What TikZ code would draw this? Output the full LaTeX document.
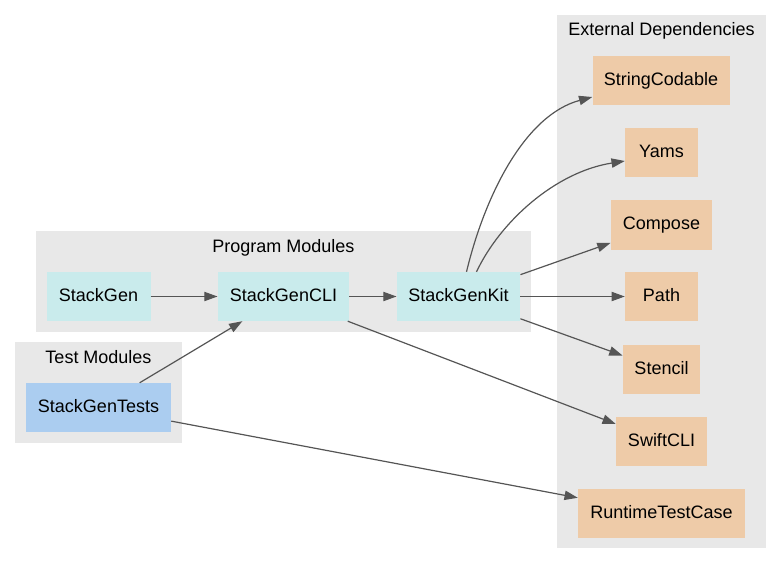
\documentclass[tikz,border=0pt]{standalone}
\usepackage{fontspec}
\setmainfont{Liberation Sans}
\usetikzlibrary{arrows.meta}
\definecolor{clusterbg}{HTML}{E8E8E8}
\definecolor{progfill}{HTML}{C9EBEC}
\definecolor{testfill}{HTML}{ABCDF0}
\definecolor{extfill}{HTML}{EECBA8}
\definecolor{edgecol}{HTML}{555555}
\begin{document}
\begin{tikzpicture}[x=1pt,y=-1pt,
  box/.style={inner sep=0pt, minimum height=49pt, text height=13pt, text depth=4pt,
    font=\fontsize{18}{21}\selectfont},
  prog/.style={box, fill=progfill},
  testm/.style={box, fill=testfill},
  ext/.style={box, fill=extfill},
  clabel/.style={anchor=base, inner sep=0pt, font=\fontsize{18}{21}\selectfont},
  dep/.style={draw=edgecol, line width=1.2pt, -{Triangle[length=13.3pt,width=9.3pt]}, fill=none},
]
\useasboundingbox (0,0) rectangle (771,564);
% clusters
\fill[clusterbg] (557,15) rectangle (766,548);
\fill[clusterbg] (36,231) rectangle (531,332);
\fill[clusterbg] (15,342) rectangle (182,443);
\node[clabel] (lext) at (661.5,36) {External Dependencies};
\node[clabel] (lprog) at (283.5,252) {Program Modules};
\node[clabel] (ltest) at (98.5,363) {Test Modules};
% program modules
\node[prog, minimum width=104pt] (sg) at (98.5,296.5) {StackGen};
\node[prog, minimum width=131.5pt] (cli) at (283.5,296.5) {StackGenCLI};
\node[prog, minimum width=123.5pt] (kit) at (458.5,296.5) {StackGenKit};
% test modules
\node[testm, minimum width=145pt] (tests) at (98.5,407.5) {StackGenTests};
% external
\node[ext, minimum width=137pt] (sc) at (661,81) {StringCodable};
\node[ext, minimum width=73pt] (yams) at (661.5,153) {Yams};
\node[ext, minimum width=101.5pt] (compose) at (661.5,225) {Compose};
\node[ext, minimum width=73pt] (path) at (661.5,296.5) {Path};
\node[ext, minimum width=77.5pt] (stencil) at (661.5,369.5) {Stencil};
\node[ext, minimum width=91pt] (swiftcli) at (661.5,441.5) {SwiftCLI};
\node[ext, minimum width=167pt] (rtc) at (661.5,513.5) {RuntimeTestCase};
% edges
\draw[dep] (sg) -- (cli);
\draw[dep] (cli) -- (kit);
\draw[dep] (tests) -- (cli);
\draw[dep] (tests) -- (rtc);
\draw[dep] (cli) -- (swiftcli);
\draw[dep] ([xshift=8pt]kit.north) .. controls (485,195) and (525,115) .. ([yshift=-16pt]sc.west);
\draw[dep] ([xshift=18pt]kit.north) .. controls (500,222) and (555,172) .. ([yshift=-8pt]yams.west);
\draw[dep] (kit) -- (compose);
\draw[dep] (kit) -- (path);
\draw[dep] (kit) -- (stencil);
\end{tikzpicture}
\end{document}
